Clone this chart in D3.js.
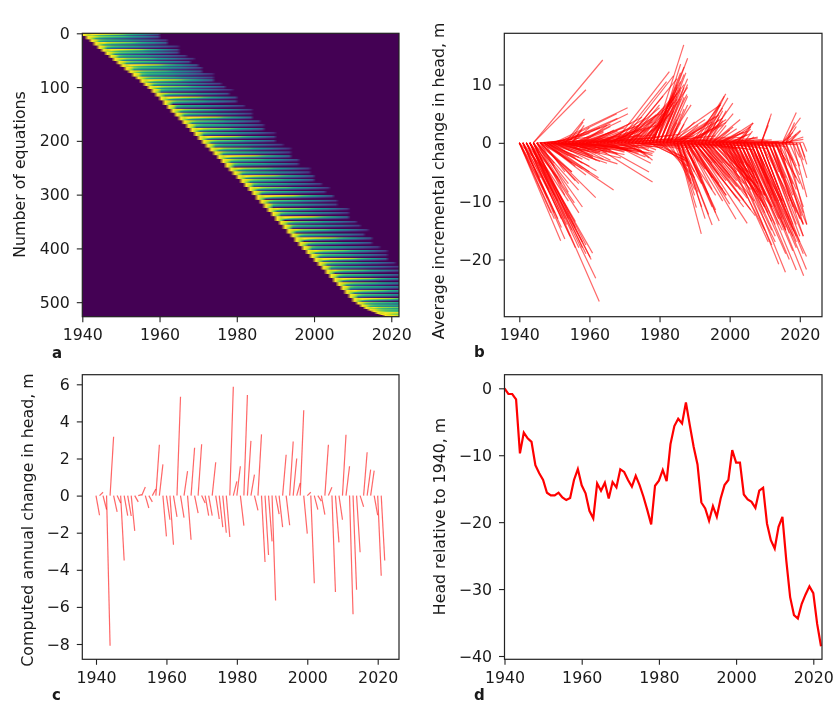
<!DOCTYPE html>
<html>
<head>
<meta charset="utf-8">
<title>Head response panels</title>
<script src="https://d3js.org/d3.v7.min.js"></script>
<style>
  html, body { margin: 0; padding: 0; background: #fff; }
  svg { display: block; filter: blur(0.45px); }
  text { font-family: "DejaVu Sans", sans-serif; fill: #1a1a1a; }
</style>
</head>
<body>
<div id="chart"></div>
<script>
// ---- panel a: design matrix, described year by year
var firstYear = 1940;
var lastMatrixYear = 2022;
var equationCount = 527;
var matrixTicks = [0, 100, 200, 300, 400, 500];
var yearTicks = [1940, 1960, 1980, 2000, 2020];

// equations that start in each year, 1940..2021
var eqnsPerYear = [5,6,5,6,6,5,6,5,6,6,5,6,5,6,5,6,6,5,
  7,7,7,8,7,7,7,7,7,7,7,7,7,7,
  7,7,7,7,7,8,7,7,7,7,7,7,
  8,8,7,8,7,8,8,7,8,8,7,8,8,
  7,7,7,7,7,7,8,7,8,7,7,7,7,7,
  5,4,4,3,3,3,2,2,1];
// how far each group's tail runs, years
var tailYears = [20,19,20,19,21,20,19,20,21,19,20,20,19,21,20,19,20,20,21,19,
  20,19,20,21,20,19,20,20,19,21,20,19,20,21,20,19,20,19,21,20,
  20,19,20,21,19,20,20,19,21,20,19,20,20,21,19,20,19,20,21,20,
  19,20,21,20,19,20,21,20,19,20,20,20,20,20,20,20,20,20,20,20,20,20];
// strength of the tail of each group, 0..1
var tailShade = [.98,.72,.62,.8,.66,.95,.7,.6,.76,.68,.92,.64,.74,.6,.7,.9,.66,.78,.6,.72,
  .94,.68,.6,.76,.66,.96,.7,.62,.8,.64,.92,.72,.6,.78,.66,.95,.7,.62,.82,.64,
  .9,.7,.62,.78,.66,.94,.7,.6,.8,.64,.96,.72,.62,.76,.66,.92,.7,.6,.8,.66,
  .95,.7,.62,.78,.66,.9,.72,.6,.8,.66,.94,.7,.64,.82,.68,.7,.9,.72,.8,.7,.7,.7];
// value along the tail, by lag in years
var lagCurve = [1,1,.92,.84,.8,.78,.76,.74,.72,.7,.66,.6,.56,.52,.48,.44,.38,.33,.27,.22,.16,.1];
// fade across the rows of one group
var rowFade = [1,.95,.85,.7,.5,.3,.12,0];

// ---- panel b: incremental responses, [start year, end year, head]
var earlyDown = [
  [1940,1951.8,-16.8],[1940,1950,-13],[1940,1948,-9.5],[1940,1946,-6],[1940,1944,-2.5],
  [1941,1953,-16.5],[1941,1951,-13],[1941,1948.5,-8],[1941,1946,-4],
  [1942,1956,-18],[1942,1953.5,-14],[1942,1951,-10],[1942,1948,-5],
  [1943,1962.8,-27.2],[1943,1961.8,-23.2],[1943,1960.9,-18.9],[1943,1960.2,-19.6],[1943,1958,-17],
  [1943,1956,-13.5],[1943,1954,-10],[1943,1951,-6],
  [1944,1960.5,-20],[1944,1957,-12],[1944,1955.7,-10.3],[1944,1952,-7],[1944,1950,-4],
  [1945,1956.9,-8.1],[1945,1951.6,-6.5],[1945,1950,-3.5],[1945,1955,-5],
  [1946,1961.8,-9.4],[1946,1955,-5],[1946,1958,-4.5],[1946,1952,-2],
  [1947,1966.9,-8.1],[1947,1962.6,-6],[1947,1960,-4],[1947,1957,-2.5]
];
var denseEarly = [
  [1940,1949,-12],[1940,1947,-8],[1941,1950,-12],[1941,1952,-14.5],[1941,1949,-9],[1942,1952,-13],[1942,1954.5,-16],
  [1942,1950,-9],[1943,1953,-13],[1943,1955,-15],[1943,1957,-18],[1943,1959,-19],[1944,1954,-13],[1944,1956,-14.5],
  [1944,1958,-18],[1944,1959,-17.5],[1945,1953,-9],[1945,1958,-11],[1945,1954,-7],[1946,1954,-8.5],[1946,1957,-7],
  [1946,1956,-6.5],[1947,1953,-5],[1947,1955,-3.5],[1947,1959,-5.5],[1948,1956,-4],[1948,1960,-5],[1948,1954,-2.2],
  [1949,1956,-2.5],[1949,1958,-3.5],[1950,1955,-1.5],[1950,1960,-3]
];
var midDown = [
  [1948,1962,-4.8],[1948,1958,-2.8],[1948,1965,-3.5],[1949,1963,-3.2],[1949,1968,-3.6],[1949,1960,-1.5],
  [1950,1961,-2.5],[1950,1969,-2.6],[1950,1957,-1.2],[1951,1962,-1.8],[1951,1966,-1.5],[1951,1970,-2],
  [1952,1963,-1.5],[1952,1970,-1.4],[1953,1965,-1.8],[1953,1972,-1],[1954,1966,-1.2],[1955,1968,-2],
  [1955,1972,-1.4],[1957,1965,-1.3],[1957,1974,-1.2],[1958,1975,-1.6],[1959,1978,-1.8],[1960,1978,-6.7],
  [1962,1977,-5],[1966,1977.5,-3.5],[1968,1978,-2.2],[1970,1978.5,-1.6],[1973,1980,-.8],[1975,1986,-1],
  [1977,1988,-3.2],[1977,1987,-2.9],[1978,1986.5,-2.4],[1979,1988,-2.8],
  [1980,1988,-4],[1981,1989,-5.5],[1982,1990,-6],[1983,1989,-7],[1984,1990,-8],[1984,1988,-3.5],
  [1951,1958,-1.5],[1952,1960,-2],[1953,1961,-2.2],[1954,1962,-3],[1954,1960,-1.2],[1955,1964,-2.8],[1956,1963,-1.8],
  [1956,1966,-3],[1957,1962,-1.1],[1958,1968,-1.8],[1959,1966,-1.2],[1960,1970,-1.6],[1961,1971,-1.3],[1962,1972,-1.5],
  [1963,1971,-1],[1964,1974,-1.8],[1965,1976,-2.4],[1967,1975,-1.4],[1969,1976,-1.8],[1971,1977,-2.6],[1972,1978,-3],
  [1973,1977,-1.4],[1974,1979,-1.2]
];
var lateDown = [
  [1985,1991.9,-15.6],[1985,1990.5,-11.1],[1985,1990,-9],[1985,1989,-6.5],[1986,1993,-13],[1986,1995,-14.1],
  [1986,1994,-12.3],[1986,1992,-11],[1987,1997,-13.4],[1987,1996,-11.5],[1987,1994,-9],[1987,1992,-6],
  [1988,1998,-10],[1988,1995,-8],[1988,1993,-4.5],[1989,2001.8,-13.1],[1989,2000,-10.5],[1989,1997,-7],
  [1990,2005,-13.8],[1990,2002,-9.5],[1990,1999,-6.5],[1990,1995,-3.5],[1991,2007.3,-12.5],[1991,2004,-9.8],
  [1991,2000,-6],[1992,2006,-11.5],[1992,2003,-8],[1992,1998,-3.5],[1993,2005,-9.5],[1993,2000,-4],
  [1994,2002,-5],[1994,2007,-10],[1995,2003,-4.5],[1995,2008,-8.5],
  [1996,2005,-5],[1996,2010,-9],[1997,2006,-6.5],[1997,2003,-3.5],[1998,2007,-6],[1998,2012,-11],
  [1999,2008,-7],[1999,2004,-3.5],[2000,2009,-9],[2000,2005,-4],[2001,2010,-11],[2001,2007,-5.5],
  [2002,2011,-12],[2002,2008,-7],[2003,2009,-8.5],[2004,2010,-9],[2005,2012,-9],[2006,2011,-7],
  [2007,2013,-10],[2007,2010,-4],
  [2000,2014,-20.8],[2001,2015.9,-22.2],[2004,2019,-21.8],[2006,2021.1,-22.8],[2007,2021.9,-21.7],
  [2007,2021.9,-19.5],[2005,2018.3,-15.1],[2009,2020.9,-13.8],[2013,2020,-7],[2018,2022,-9.3],[2020,2022,-3.7],
  [1997,2010,-15],[1998,2011,-17],[1999,2012,-17.5],[2000,2012,-15],[2001,2013,-16],[2002,2016,-19],
  [2003,2017,-20],[2003,2014,-13],[2004,2016,-15],[2005,2018,-18.5],[2005,2015,-10],[2006,2019,-18],
  [2006,2014,-10],[2007,2019,-16],[2008,2021,-19],[2008,2017,-13],[2008,2012,-6],[2009,2020,-17],
  [2009,2016,-11],[2010,2019,-14],[2010,2017,-10],[2010,2014,-5],[2011,2021,-14],[2011,2018,-9],
  [2012,2018,-11],[2012,2016,-6],[2012,2020,-13],[2013,2019,-8],[2013,2021,-12],[2013,2016,-3],
  [2014,2020.5,-12.5],[2014,2019,-6],[2015,2020,-5.5],[2015,2018,-3],[2016,2021,-8],[2016,2019,-4],
  [2017,2020,-4],[2018,2020,-2.5],[2019,2021,-3],[2019,2022,-6],[2020,2021.5,-2.5],[2021,2022,-1.5]
];
var denseLate = [
  [1985,1988,-4],[1985,1992,-7],[1986,1991,-8.5],[1986,1990,-5],[1986,1996,-9],[1987,1995,-11],[1987,1998,-8],[1987,1990,-3.5],
  [1988,1996,-12],[1988,1999,-9],[1988,1991,-3.2],[1989,1995,-6],[1989,1999,-9],[1989,2003,-10],[1990,1997,-5.5],[1990,2004,-11],
  [1991,2002,-7.5],[1991,1996,-3.5],[1992,2000,-5.5],[1992,2005,-9],[1993,2002,-6.5],[1993,2004,-7],[1994,2003,-6],[1994,2006,-8],
  [1995,2006,-7],[1996,2008,-7.5],[1997,2008,-9],[1998,2009,-10],[1999,2010,-11],[1999,2013,-17],[2000,2010,-12],[2000,2007,-5],
  [2001,2012,-13.5],[2002,2013,-14],[2002,2010,-9],[2003,2012,-11],[2003,2015,-15],[2004,2014,-14],[2004,2012,-9.5],[2005,2016,-15],
  [2005,2013,-11],[2006,2016,-14.5],[2006,2018,-16],[2007,2015,-13],[2007,2017,-15.5],[2008,2019,-17],[2008,2015,-10],[2009,2018,-14],
  [2009,2014,-8],[2010,2020,-16],[2010,2021,-16],[2011,2019,-12],[2011,2015,-6],[2012,2021,-16],[2012,2022,-14],[2013,2018,-7],
  [2014,2021,-14],[2015,2021,-11],[2016,2022,-14]
];
var raysUp = [
  [1944,1963.8,14.2],[1944,1959,9.1],[1950,1970.9,6],[1951,1967.8,5],[1952,1968,4.2],[1953,1958.6,4.1],
  [1954,1958.2,3.6],[1955,1958.5,3],[1955,1957.8,2.2],[1955,1960,2.6],[1953,1957,1.5],[1952,1966,3.2],
  [1950,1963,2.6],[1949,1960,1.6],[1948,1955,.6],[1946,1953,.4],[1954,1971,5],[1956,1969,3.8],[1957,1966,2.8],
  [1958,1965,3],[1958,1966,1.8],[1959,1972,3.4],[1960,1967,2.2],[1961,1975,4.4],[1962,1974,3],[1963,1970,2],
  [1964,1976,4.2],[1964,1973,1.6],[1967,1982.8,12.2],[1968,1982,10.5],[1969,1984,11.5],[1970,1981,8],
  [1970,1985,11],[1971,1980,6.5],[1972,1984,8],[1978,1986.9,16.8],[1979,1988,14.5],[1979,1987,11.7],
  [1978,1985,10],[1978,1984,8.5],[1979,1986,13.5],[1980,1987.5,12],[1980,1986,9],[1980,1984,5.5],
  [1981,1987.8,8.3],[1981,1985,4],[1981,1988,10],[1982,1989,6.5],[1982,1986,5],[1982,1987,7.8],[1983,1987,5.8],
  [1983,1988,6.5],[1984,1988,4.4],[1975,1985,7.5],[1975,1983,5],[1976,1986,9.5],[1976,1982,5],[1977,1985,8],
  [1977,1982,4.3],[1974,1983,5],[1974,1980,3.2],[1973,1982,5.5],[1973,1978,2.3],[1972,1979,3.6],[1971,1977,2.8],
  [1970,1976,2.2],[1968,1974,2.2],[1966,1978,3.6],[1965,1975,2.4],
  [1984,1996,4.5],[1985,1997,4.8],[1983,1993,4],[1984,1992,2.6],[1985,1991,3],[1986,1994,3.5],[1986,1990,1.8],
  [1987,1996,2.7],[1988,1994,2.1],[1987,1999,3.5],[1989,1997.3,6.5],[1982,1997.3,6.5],[1990,1998.9,8.4],
  [1992,1998.5,8],[1992,1999.5,7.7],[1993,2000.9,6.8],[1993,1998,5.5],[1993,1997,4.5],[1994,2001,5],[1994,1999,5.5],
  [1994,1998,3.8],[1995,2003,4],[1995,1999,3],[1995,2001,2.7],[1996,2004,1.8],[1996,2000,2.2],[1997,2005,2],
  [1998,2006.7,3.4],[1999,2006,2.8],[2002,2006.7,3.4],[2003,2006,2.8],[2004,2006.5,2],[2000,2006,1.6],[2001,2008,1],
  [2009,2011.9,5],[2009,2011.5,4.2],[2009,2011,3],[2015,2019,5.2],[2015,2020.2,4.3],[2016,2018.5,3.5],
  [2016,2020.2,2.1],[2016,2019,2.8],[2015,2018,1.8],[2016,2021,1],[2015,2017.5,1.2],[2015,2021,.6],[2017,2020.2,2],[2017,2019,1.5]
];
var denseUp = [
  [1966,1980,5],[1967,1978,4],[1968,1980,6],[1969,1979,4.8],[1971,1983,7],[1972,1981,5.6],[1973,1984,7.5],[1974,1985,8.5],
  [1975,1987,10],[1976,1984,7],[1977,1986,10.5],[1977,1988,9.5],[1978,1987,13],[1978,1986,12],[1979,1985,9.5],[1979,1984,6.5],
  [1980,1988,11],[1980,1985,7],[1981,1986,7.5],[1981,1987,9.5],[1982,1985,3.5],[1982,1988,8],[1983,1986,3.5],[1983,1985,2.6],
  [1984,1987,3.2],[1984,1990,3.6],[1955,1964,2],[1956,1964,1.8],[1957,1970,2.6],[1959,1968,2],[1960,1973,2.8],[1961,1969,1.5],
  [1962,1971,1.8],[1963,1976,2.6],[1965,1979,3],[1966,1974,1.4],[1985,1995,3.6],[1986,1998,4.2],[1988,1998,3],[1989,1999,4],
  [1990,1997,4],[1991,1998,6],[1991,1997.5,6.8],[1992,1997,3.2],[1996,2002,2.4],[1997,2003,2],[2000,2005,1.4],[2002,2006,2.4],[2004,2007,1]
];
var nearZero = [
  [1945,1960,.4],[1946,1962,-.5],[1948,1966,.6],[1950,1968,-.5],[1952,1972,.5],[1954,1974,-.6],[1956,1975,.8],
  [1958,1978,.5],[1960,1980,.9],[1962,1978,-.6],[1964,1984,.6],[1966,1986,-.3],[1968,1988,.8],[1970,1990,.5],
  [1972,1990,-.6],[1974,1994,.4],[1976,1996,.5],[1978,1998,-.4],[1980,2000,.5],[1982,2001,-.6],[1984,2004,.4],
  [1986,2006,-.5],[1988,2007,.4],[1990,2008,-.6],[1992,2011,.3],[1994,2012,-.5],[1996,2014,.2],[1998,2015,-.4],
  [2000,2014,.1],[2002,2016,-.2],[2004,2018,.1],[2006,2019,-.3],[2008,2018,.1],[2010,2020,-.2],[2012,2021,.1],
  [1947,1960,1],[1949,1965,-1],[1951,1970,1.2],[1953,1969,-.9],[1955,1975,1.3],[1957,1973,-1],[1959,1979,1.4],[1961,1977,-.9],
  [1963,1983,1.3],[1965,1981,-.8],[1967,1986,1.5],[1969,1985,-.5],[1971,1990,1.2],[1973,1990,-.9],[1975,1992,1],[1977,1996,1.2],
  [1979,1996,-.9],[1981,2000,1],[1983,2002,-1],[1985,2004,1],[1987,2005,-1],[1989,2008,.8],[1991,2007,-1.2],[1993,2010,.6],
  [1995,2011,-1],[1997,2012,.5],[1999,2014,-.7],[2001,2015,.3],[2003,2016,-.6]
];
var incrementTicks = [10, 0, -10, -20];

// ---- panel c: computed annual change in head, one value per year from 1940
var annualChange = [-1.06,.18,-.75,-8.1,3.17,-.88,-.4,-3.5,-1.08,-1.1,-1.9,-.34,.05,.46,-.67,-.34,.36,2.74,1.68,-2.2,
  -1.3,-2.65,-1.15,5.33,-1.19,1.32,-2.38,2.58,-.95,2.77,-.4,-1.08,-1.08,1.8,-1.26,-1.7,-2,-2.23,5.87,.77,
  1.58,-1.62,5.42,2.95,1.13,-.8,3.3,-3.58,-3.2,-2.47,-5.66,-1,-1.7,2.2,-1.6,2.92,2,.68,4.6,-2.05,
  .18,-4.72,-.76,-.3,-1.03,2.74,.45,-5.2,-2.52,-1.3,3.28,1.58,-6.4,-5.08,-3.05,-.6,2.34,1.4,1.35,-1.06,-4.32,-3.5];
var annualTicks = [6, 4, 2, 0, -2, -4, -6, -8];

// ---- panel d: head relative to 1940, one value per year from 1940
var headLevels = [0,-.85,-.85,-1.65,-9.73,-6.63,-7.48,-8,-11.5,-12.7,-13.7,-15.6,-16,-16,-15.6,-16.3,-16.7,-16.4,-13.7,-12.07,
  -14.5,-15.7,-18.3,-19.45,-14.2,-15.3,-14.1,-16.46,-14,-14.8,-12.1,-12.5,-13.7,-14.7,-13.07,-14.46,-16.2,-18.2,-20.35,-14.56,
  -13.8,-12.2,-13.87,-8.33,-5.64,-4.54,-5.24,-2.1,-5.5,-8.73,-11.37,-17.06,-17.96,-19.8,-17.6,-19.2,-16.46,-14.46,-13.7,-9.23,
  -11.1,-11.1,-15.86,-16.6,-16.96,-17.86,-15.3,-14.86,-20.2,-22.7,-23.94,-20.7,-19.2,-25.7,-31.2,-33.9,-34.4,-32.2,-30.8,-29.6,
  -30.6,-35.2,-38.55];
var headTicks = [0, -10, -20, -30, -40];

var width = 837, height = 704;
var svg = d3.select("#chart").append("svg").attr("width", width).attr("height", height);

// draws box, ticks and labels for one panel
function panelFrame(box, x, y, xTicks, yTicks, yLabel, labelX, labelY, letter, letterX, letterY) {
  var g = svg.append("g");
  var xAxis = d3.axisBottom(x).tickValues(xTicks).tickSize(5.5).tickPadding(7).tickFormat(d3.format("d"));
  var yAxis = d3.axisLeft(y).tickValues(yTicks).tickSize(5.5).tickPadding(7)
    .tickFormat(function (d) { return String(d).replace("-", "\u2212"); });
  g.append("g").attr("transform", "translate(0," + box.bottom + ")").call(xAxis);
  g.append("g").attr("transform", "translate(" + box.left + ",0)").call(yAxis);
  g.selectAll(".domain").remove();
  g.selectAll(".tick line").attr("stroke", "#222").attr("stroke-width", 1.1);
  g.selectAll(".tick text").style("font-size", "15.8px").attr("fill", "#1a1a1a");
  g.append("rect")
    .attr("x", box.left).attr("y", box.top)
    .attr("width", box.right - box.left).attr("height", box.bottom - box.top)
    .attr("fill", "none").attr("stroke", "#222").attr("stroke-width", 1.2);
  svg.append("text")
    .attr("transform", "translate(" + labelX + "," + labelY + ") rotate(-90)")
    .attr("text-anchor", "middle").style("font-size", "15.8px").text(yLabel);
  svg.append("text")
    .attr("x", letterX).attr("y", letterY)
    .style("font-size", "15px").style("font-weight", "bold").text(letter);
}

function line2(x, y) {
  return d3.line().x(function (d) { return x(d[0]); }).y(function (d) { return y(d[1]); });
}

// ---- a
var boxA = { left: 82.3, right: 399, top: 33.3, bottom: 316.7 };
var xA = d3.scaleLinear().domain([firstYear, lastMatrixYear]).range([boxA.left, boxA.right]);
var yA = d3.scaleLinear().domain([0, equationCount]).range([boxA.top, boxA.bottom]);

var nCols = lastMatrixYear - firstYear;
var matrixRows = [];
eqnsPerYear.forEach(function (count, group) {
  d3.range(count).forEach(function (r) {
    var fade = rowFade[Math.min(r, rowFade.length - 1)];
    var row = new Array(nCols).fill(0);
    d3.range(tailYears[group]).forEach(function (lag) {
      var col = group + lag;
      if (col >= nCols) return;
      // the spine stays solid, further out only the top rows of a group keep their colour
      if (lag < 2) row[col] = lag == 0 ? 1 : 0.98 - 0.03 * r;
      else row[col] = lagCurve[lag] * tailShade[group] * Math.pow(fade, 0.5 + lag / 9) * 1.4;
    });
    matrixRows.push(row);
  });
});

var cv = d3.create("canvas").attr("width", nCols).attr("height", matrixRows.length).node();
var ctx = cv.getContext("2d");
var bg = d3.interpolateViridis(0);
matrixRows.forEach(function (row, r) {
  row.forEach(function (v, c) {
    ctx.fillStyle = v > 0 ? d3.interpolateViridis(Math.min(v, 1)) : bg;
    ctx.fillRect(c, r, 1, 1);
  });
});
svg.append("image")
  .attr("x", xA(firstYear)).attr("y", yA(0))
  .attr("width", xA(lastMatrixYear) - xA(firstYear))
  .attr("height", yA(equationCount) - yA(0))
  .attr("preserveAspectRatio", "none")
  .attr("href", cv.toDataURL());
panelFrame(boxA, xA, yA, yearTicks, matrixTicks, "Number of equations", 24.5, 174.5, "a", 52, 358);

// ---- b
var boxB = { left: 504.3, right: 822, top: 33.3, bottom: 316.7 };
var xB = d3.scaleLinear().domain([1940, 2020]).range([519.3, 799.8]);
var yB = d3.scaleLinear().domain([10, -20]).range([84.5, 259.5]);
var allRays = [].concat(earlyDown, denseEarly, midDown, lateDown, denseLate, raysUp, denseUp, nearZero);
svg.append("g").selectAll("path").data(allRays).join("path")
  .attr("d", function (d) { return line2(xB, yB)([[d[0], 0], [d[1], d[2]]]); })
  .attr("fill", "none").attr("stroke", "red").attr("stroke-width", 1.2).attr("stroke-opacity", 0.6);
panelFrame(boxB, xB, yB, yearTicks, incrementTicks, "Average incremental change in head, m", 444, 181, "b", 474, 357);

// ---- c
var boxC = { left: 82.3, right: 399, top: 374.7, bottom: 659.3 };
var xC = d3.scaleLinear().domain([1940, 2020]).range([96, 377.7]);
var yC = d3.scaleLinear().domain([6, -8]).range([384.3, 644]);
svg.append("g").selectAll("path").data(annualChange).join("path")
  .attr("d", function (d, i) { return line2(xC, yC)([[firstYear + i, 0], [firstYear + i + 1, d]]); })
  .attr("fill", "none").attr("stroke", "red").attr("stroke-width", 1.2).attr("stroke-opacity", 0.6);
panelFrame(boxC, xC, yC, yearTicks, annualTicks, "Computed annual change in head, m", 32.5, 520, "c", 52, 700);

// ---- d
var boxD = { left: 504.5, right: 822, top: 374.7, bottom: 659.3 };
var xD = d3.scaleLinear().domain([1940, 2020]).range([504.5, 813.3]);
var yD = d3.scaleLinear().domain([0, -40]).range([388.3, 656]);
svg.append("path")
  .datum(headLevels)
  .attr("d", d3.line().x(function (d, i) { return xD(firstYear + i); }).y(function (d) { return yD(d); }))
  .attr("fill", "none").attr("stroke", "red").attr("stroke-width", 2.2);
panelFrame(boxD, xD, yD, yearTicks, headTicks, "Head relative to 1940, m", 445, 516.5, "d", 474, 700);
</script>
</body>
</html>
